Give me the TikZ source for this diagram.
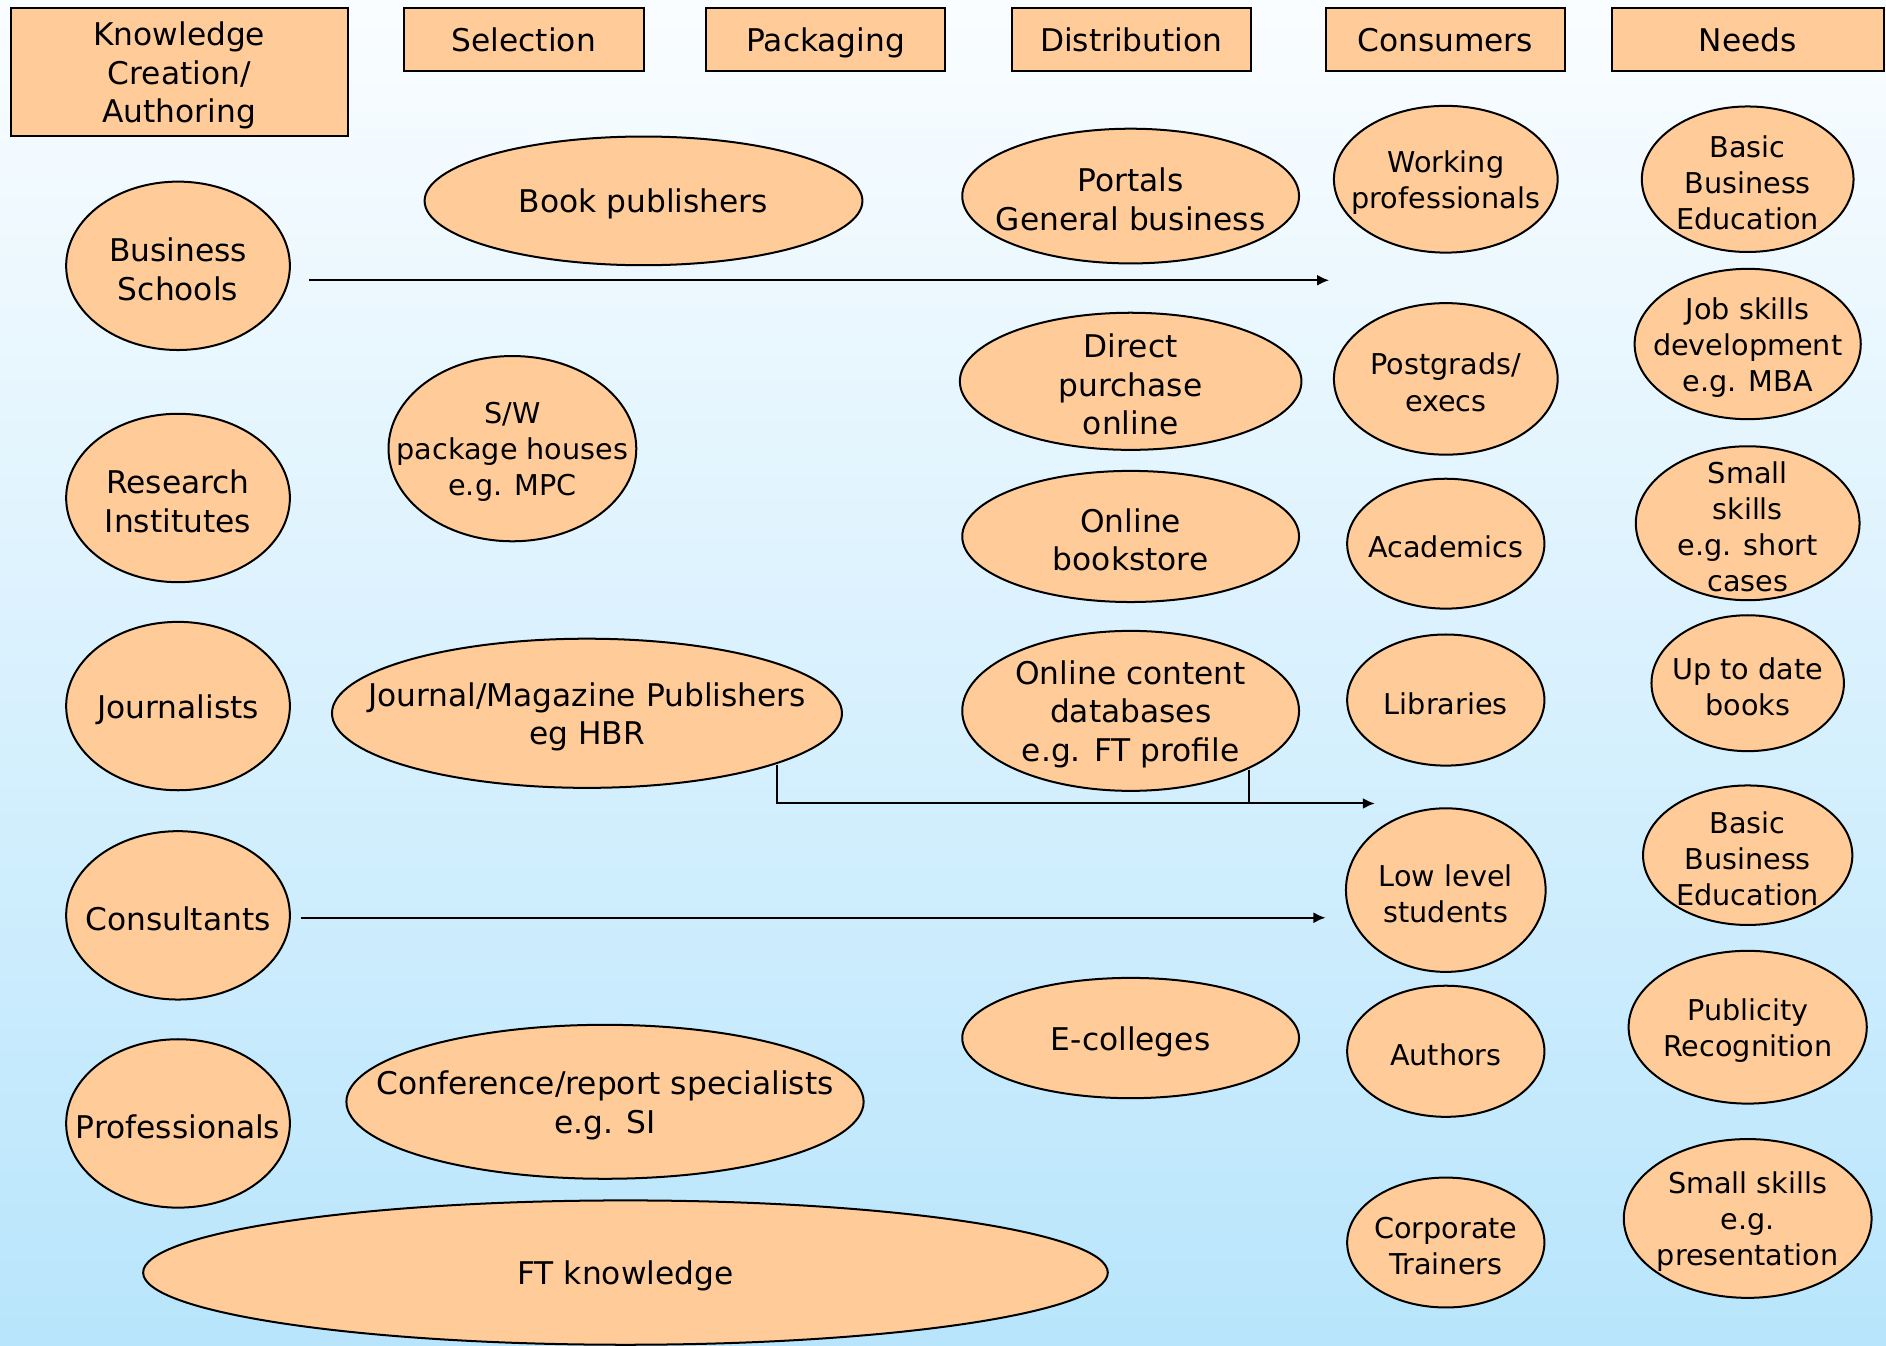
\documentclass[tikz,border=0pt]{standalone}
\usepackage{fontspec}
\setmainfont{DejaVu Sans}
\usepackage{tikz}
\usetikzlibrary{arrows,arrows.meta}
\definecolor{peach}{RGB}{255,204,153}
\definecolor{skytop}{RGB}{250,253,255}
\definecolor{skybot}{RGB}{184,229,252}

\begin{document}
\begin{tikzpicture}[x=0.6pt,y=-0.6pt,
        head/.style={draw,fill=peach,line width=1pt,inner sep=0pt,align=center,
            minimum width=199*0.6pt,minimum height=52*0.6pt,font=\fontsize{15.6}{19.2}\selectfont},
        oval/.style={draw,fill=peach,line width=1pt},
        big/.style={align=center,inner sep=0pt,yshift=-1.7pt,font=\fontsize{15.6}{19.2}\selectfont},
        small/.style={align=center,inner sep=0pt,yshift=-1.7pt,font=\fontsize{14.3}{18}\selectfont},
        flow/.style={line width=1pt}]
        \useasboundingbox (0,0) rectangle (1568,1119);
        \shade[top color=skytop,bottom color=skybot] (0,0) rectangle (1568,1119);

        % column heads
        \node[head,minimum width=280*0.6pt,minimum height=106*0.6pt] (kca) at (149,60) {\rule{0pt}{15.5pt}Knowledge\\Creation/\\Authoring};
        \node[head] (sel) at (435.5,33) {Selection};
        \node[head,text depth=0pt] (pack) at (686.5,33) {Packaging};
        \node[head] (dist) at (940.5,33) {Distribution};
        \node[head] (cons) at (1201.5,33) {Consumers};
        \node[head,minimum width=226*0.6pt] (needs) at (1453,33) {Needs};

        % knowledge creation
        \foreach \y/\txt/\nm in {221/{Business\\Schools}/bsch,414/{Research\\Institutes}/resi,
            587/{Journalists}/journ,761/{Consultants}/consu,934/{Professionals}/profs}
        \draw[oval] (148,\y) ellipse (93 and 70) node[big] (\nm) {\txt};

        % selection / packaging
        \draw[oval] (535,167) ellipse (182 and 53.5) node[big] (bookpub) {Book publishers};
        \draw[oval] (426,373) ellipse (103 and 77) node[small] (swpack) {S/W\\package houses\\e.g. MPC};
        \draw[oval] (488,593) ellipse (212 and 62) node[big] (jmpub) {Journal/Magazine Publishers\\eg HBR};
        \draw[oval] (503,916) ellipse (215 and 64) node[big] (confspec) {Conference/report specialists\\e.g. SI};
        \draw[oval] (520,1058) ellipse (401 and 60) node[big] (ftknow) {FT knowledge};

        % distribution
        \draw[oval] (940,163) ellipse (140 and 56) node[big] (portals) {Portals\\General business};
        \draw[oval] (940,317) ellipse (142 and 57) node[big] (direct) {Direct\\purchase\\online};
        \draw[oval] (940,446) ellipse (140 and 54.5) node[big] (bookstore) {Online\\bookstore};
        \draw[oval] (940,591) ellipse (140 and 66.5) node[big] (ocdb) {Online content\\databases\\e.g. FT profile};
        \draw[oval] (940,863) ellipse (140 and 50) node[big] (ecol) {E-colleges};

        % consumers
        \draw[oval] (1202,149) ellipse (93 and 61) node[small] (workpro) {Working\\professionals};
        \draw[oval] (1202,315) ellipse (93 and 63) node[small] (postg) {Postgrads/\\execs};
        \draw[oval] (1202,452) ellipse (82 and 54) node[small] (acad) {Academics};
        \draw[oval] (1202,582) ellipse (82 and 54.5) node[small] (libs) {Libraries};
        \draw[oval] (1202,740) ellipse (83 and 68) node[small] (lowstud) {Low level\\students};
        \draw[oval] (1202,874) ellipse (82 and 54.5) node[small] (auth) {Authors};
        \draw[oval] (1202,1033) ellipse (82 and 54) node[small] (corptr) {Corporate\\Trainers};

        % needs
        \draw[oval] (1453,149) ellipse (88 and 60.5) node[small] (bbeA) {Basic\\Business\\Education};
        \draw[oval] (1453,286) ellipse (94 and 62.5) node[small] (jobsk) {Job skills\\development\\e.g. MBA};
        \draw[oval] (1453,435) ellipse (93 and 64) node[small] (smallA) {Small\\skills\\e.g. short\\cases};
        \draw[oval] (1453,568) ellipse (80 and 56.5) node[small] (uptd) {Up to date\\books};
        \draw[oval] (1453,711) ellipse (87 and 58) node[small] (bbeB) {Basic\\Business\\Education};
        \draw[oval] (1453,854) ellipse (99 and 63.5) node[small] (publ) {Publicity\\Recognition};
        \draw[oval] (1453,1013) ellipse (103 and 66) node[small] (smallB) {Small skills\\e.g.\\presentation};

        % flows
        \coordinate (bsout) at (257,233);
        \coordinate (consA) at (1105,233);
        \coordinate (cnout) at (250,763);
        \coordinate (consB) at (1102,763);
        \coordinate (jmfoot) at (646,636);
        \coordinate (ocfoot) at (1038,640);
        \coordinate (lowin) at (1143,668);
        \draw[flow,-{Latex[length=6pt,width=5.5pt]}] (bsout) -- (consA);
        \draw[flow,-{Latex[length=6pt,width=5.5pt]}] (cnout) -- (consB);
        \draw[flow,-{Latex[length=6pt,width=5.5pt]}] (jmfoot) |- (lowin);
        \draw[flow] (ocfoot) -- (ocfoot |- lowin);
    \end{tikzpicture}
\end{document}
